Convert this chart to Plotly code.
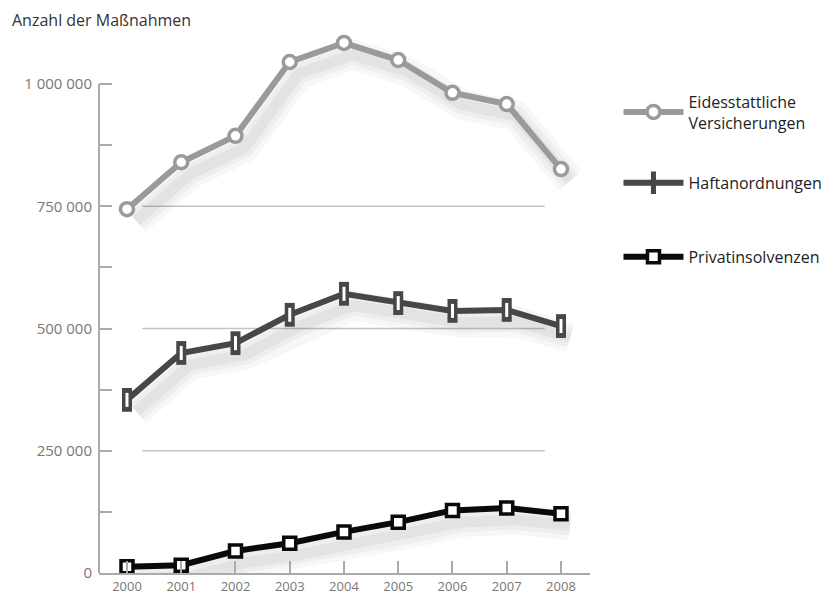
import plotly.graph_objects as go

years = [2000, 2001, 2002, 2003, 2004, 2005, 2006, 2007, 2008]
eidesstattliche = [744000, 840000, 894000, 1045000, 1084000, 1049000, 982000, 959000, 826000]
haftanordnungen = [354000, 450000, 470000, 528000, 571000, 552000, 536000, 538000, 505000]
privatinsolvenzen = [13000, 16000, 45000, 61000, 84000, 104000, 128000, 133000, 121000]

y_tickvals = [0, 250000, 500000, 750000, 1000000]
y_ticktext = ["0", "250 000", "500 000", "750 000", "1 000 000"]
grid_vals = [250000, 500000, 750000]

series = [
    ("Eidesstattliche<br>Versicherungen", eidesstattliche, "#9a9a9a", "circle", "legend"),
    ("Haftanordnungen", haftanordnungen, "#474747", "pill", "legend2"),
    ("Privatinsolvenzen", privatinsolvenzen, "#0a0a0a", "square", "legend3"),
]

fig = go.Figure()

# soft drop shadows (derived from the data, offset down/right)
for name, vals, col, sym, lg in series:
    for w, a in [(30, 0.03), (20, 0.035), (11, 0.045)]:
        fig.add_trace(go.Scatter(
            x=[v + 0.17 for v in years], y=[v - 24000 for v in vals],
            mode="lines", line=dict(color=f"rgba(0,0,0,{a})", width=w),
            hoverinfo="skip", showlegend=False))

for name, vals, col, sym, lg in series:
    if sym == "pill":
        fig.add_trace(go.Scatter(
            x=years, y=vals, mode="lines+markers", name=name, legend=lg,
            line=dict(color=col, width=6),
            marker=dict(symbol="line-ns", size=17, color=col,
                        line=dict(color=col, width=10))))
        fig.add_trace(go.Scatter(
            x=years, y=vals, mode="markers", showlegend=False,
            marker=dict(symbol="line-ns", size=10, color="white",
                        line=dict(color="white", width=3))))
    else:
        fig.add_trace(go.Scatter(
            x=years, y=vals, mode="lines+markers", name=name, legend=lg,
            line=dict(color=col, width=6),
            marker=dict(symbol=sym, size=13 if sym == "circle" else 12,
                        color="white", line=dict(color=col, width=3.5))))

shapes = []
for gv in grid_vals:
    shapes.append(dict(type="line", xref="x", yref="y", x0=2000.28, x1=2007.7,
                       y0=gv, y1=gv, line=dict(color="#c4c4c4", width=1.5),
                       layer="below"))
shapes.append(dict(type="line", xref="paper", yref="y", x0=0, x1=0,
                   y0=0, y1=y_tickvals[-1], line=dict(color="#aaaaaa", width=2),
                   layer="below"))

leg_common = dict(x=1.058, xanchor="left", yanchor="middle",
                  font=dict(size=16, color="#222222"), itemwidth=60,
                  bgcolor="rgba(0,0,0,0)")

fig.update_layout(
    width=833, height=598,
    margin=dict(l=99, r=243, t=25, b=25, autoexpand=False),
    paper_bgcolor="white", plot_bgcolor="white",
    font=dict(family="Open Sans, Lato, sans-serif", color="#777777"),
    shapes=shapes,
    showlegend=True,
    legend=dict(y=0.841, **leg_common),
    legend2=dict(y=0.712, **leg_common),
    legend3=dict(y=0.577, **leg_common),
    annotations=[dict(text="Anzahl der Maßnahmen", xref="paper", yref="paper",
                      x=-89 / 491, y=1.0 + 5 / 548, xanchor="left",
                      yanchor="middle", showarrow=False,
                      font=dict(size=16, color="#333333"))],
)

fig.update_xaxes(
    range=[1999.484, 2008.535], tickvals=years, ticktext=[str(y) for y in years],
    showgrid=False, zeroline=False, showline=True, linecolor="#aaaaaa", linewidth=2,
    ticks="inside", ticklen=12, tickwidth=1.5, tickcolor="#aaaaaa", automargin=False,
    tickfont=dict(size=13, color="#777777"), ticklabelstandoff=0,
)
fig.update_yaxes(
    range=[0, 1120654], tickvals=y_tickvals, ticktext=y_ticktext,
    showgrid=False, zeroline=False, showline=False, automargin=False,
    ticks="inside", ticklen=13, tickwidth=1.5, tickcolor="#aaaaaa",
    tickfont=dict(size=15, color="#777777"), ticklabelstandoff=6,
    minor=dict(dtick=125000, tick0=0, ticks="inside", ticklen=13,
               tickwidth=1.5, tickcolor="#aaaaaa", showgrid=False),
)

fig.write_html("out.html")
